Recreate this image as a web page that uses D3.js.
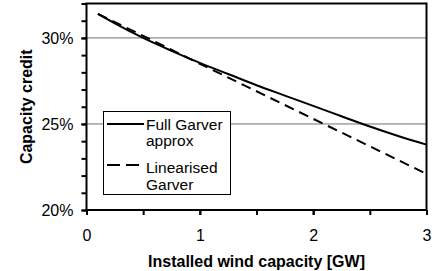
<!DOCTYPE html>
<html>
<head>
<meta charset="utf-8">
<script src="https://cdn.jsdelivr.net/npm/d3@7"></script>
<style>
  html, body { margin: 0; padding: 0; background: #fff; }
  svg { display: block; font-family: "Liberation Sans", Arial, sans-serif; }
</style>
</head>
<body>
<svg id="chart" width="432" height="271"></svg>
<script>
// ---- data ----
const capacityGW = [0.1, 0.25, 0.5, 0.75, 1, 1.25, 1.5, 1.75, 2, 2.25, 2.5, 2.75, 3];
const fullGarver = [31.4, 30.85, 30.0, 29.25, 28.55, 27.9, 27.25, 26.65, 26.05, 25.45, 24.85, 24.3, 23.8];
const linearX = [0.1, 0.5, 1, 1.5, 2, 2.5, 3];
const linearGarver = [31.4, 30.12, 28.5, 26.9, 25.3, 23.7, 22.1];
const xTicks = [0, 1, 2, 3];
const xMinorTicks = [0, 0.5, 1, 1.5, 2, 2.5, 3];
const yTicks = [20, 25, 30];
const yMinorTicks = [20, 21, 22, 23, 24, 25, 26, 27, 28, 29, 30, 31, 32];
const legendText = [["Full Garver", "approx"], ["Linearised", "Garver"]];

// ---- layout ----
const svg = d3.select("#chart");
const L = 86.5, R = 426.5, T = 3.5, B = 210;
const x = d3.scaleLinear().domain([0, 3]).range([L, R]);
const y = d3.scaleLinear().domain([20, 32]).range([B, T]);
const FONT = "'Liberation Sans', Arial, sans-serif";

// gridlines
svg.append("g").selectAll("line").data([25, 30]).join("line")
  .attr("x1", L).attr("x2", R)
  .attr("y1", d => y(d)).attr("y2", d => y(d))
  .attr("stroke", "#707070").attr("stroke-width", 1);

// axes (ticks)
const yMinor = svg.append("g").attr("transform", `translate(${L},0)`)
  .call(d3.axisLeft(y).tickValues(yMinorTicks).tickSize(5).tickFormat(""));
const yMajor = svg.append("g").attr("transform", `translate(${L},0)`)
  .call(d3.axisLeft(y).tickValues(yTicks).tickSize(5).tickPadding(8)
    .tickFormat(d => d + "%"));
const xMinor = svg.append("g").attr("transform", `translate(0,${B})`)
  .call(d3.axisBottom(x).tickValues(xMinorTicks).tickSize(5).tickFormat(""));
const xMajor = svg.append("g").attr("transform", `translate(0,${B})`)
  .call(d3.axisBottom(x).tickValues(xTicks).tickSize(5).tickPadding(14.5)
    .tickFormat(d3.format("d")));
[yMinor, yMajor, xMinor, xMajor].forEach(g => {
  g.select(".domain").remove();
  g.selectAll(".tick line").attr("stroke", "#000").attr("stroke-width", 2);
  g.selectAll("text").attr("font-size", 16).attr("fill", "#000")
    .attr("font-family", FONT);
});

// lines
const lineFull = d3.line().x((d, i) => x(capacityGW[i])).y(d => y(d)).curve(d3.curveMonotoneX);
const lineLin = d3.line().x((d, i) => x(linearX[i])).y(d => y(d));
svg.append("path").datum(linearGarver).attr("d", lineLin)
  .attr("fill", "none").attr("stroke", "#000").attr("stroke-width", 2)
  .attr("stroke-dasharray", "10,6");
svg.append("path").datum(fullGarver).attr("d", lineFull)
  .attr("fill", "none").attr("stroke", "#000").attr("stroke-width", 2);

// frame
svg.append("rect").attr("x", L).attr("y", T).attr("width", R - L).attr("height", B - T)
  .attr("fill", "none").attr("stroke", "#000").attr("stroke-width", 2);

// legend
const lg = svg.append("g");
lg.append("rect").attr("x", 103.5).attr("y", 111.5).attr("width", 127).attr("height", 83)
  .attr("fill", "#fff").attr("stroke", "#000").attr("stroke-width", 1);
lg.append("line").attr("x1", 107).attr("x2", 144).attr("y1", 124).attr("y2", 124)
  .attr("stroke", "#000").attr("stroke-width", 2);
lg.append("line").attr("x1", 107).attr("x2", 144).attr("y1", 165).attr("y2", 165)
  .attr("stroke", "#000").attr("stroke-width", 2).attr("stroke-dasharray", "13,6");
const legendRows = [
  [legendText[0][0], 129.5], [legendText[0][1], 146],
  [legendText[1][0], 172.5], [legendText[1][1], 189.5]
];
lg.selectAll("text").data(legendRows).join("text")
  .attr("x", 146).attr("y", d => d[1]).attr("font-size", 15.5).text(d => d[0]);

// axis titles
svg.append("text").attr("x", (L + R) / 2).attr("y", 267).attr("text-anchor", "middle")
  .attr("font-size", 16).attr("font-weight", "bold").text("Installed wind capacity [GW]");
svg.append("text").attr("transform", `translate(32,${(T + B) / 2}) rotate(-90)`)
  .attr("text-anchor", "middle").attr("font-size", 16).attr("font-weight", "bold")
  .text("Capacity credit");
</script>
</body>
</html>
